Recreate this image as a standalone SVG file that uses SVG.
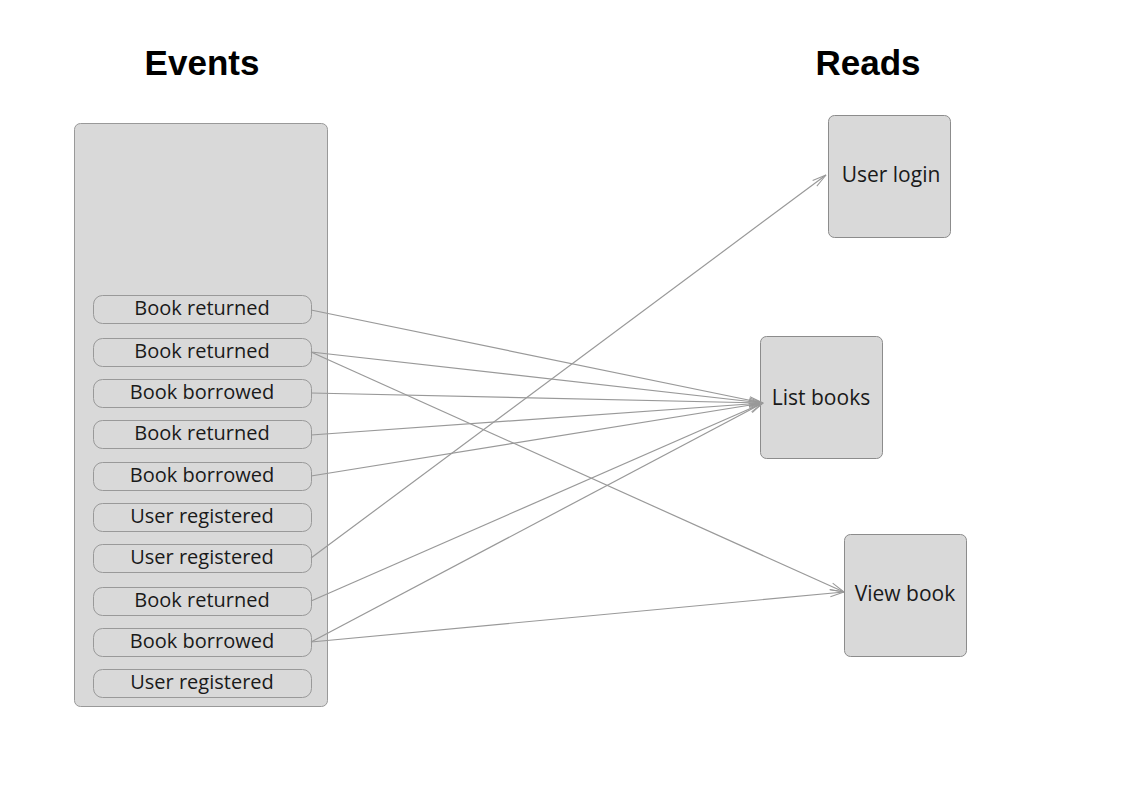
<svg xmlns="http://www.w3.org/2000/svg" width="1125" height="798" viewBox="0 0 1125 798">
<style>
.title{font-family:"Liberation Sans",Arial,sans-serif;font-weight:bold;font-size:35px;fill:#000;text-anchor:middle}
.lbl{font-family:"Open Sans","DejaVu Sans",sans-serif;font-size:20px;fill:#1a1a1a;text-anchor:middle}
.rlbl{font-family:"Open Sans","DejaVu Sans",sans-serif;font-size:21px;fill:#1a1a1a;text-anchor:middle}
.cont{fill:#d9d9d9;stroke:#999;stroke-width:1}
.ev{fill:#d9d9d9;stroke:#999;stroke-width:1}
.rd{fill:#d9d9d9;stroke:#8c8c8c;stroke-width:1}
.conn line{stroke:#999;stroke-width:1.2;fill:none;marker-end:url(#arr)}
</style>
<defs>
<marker id="arr" markerWidth="16" markerHeight="10" refX="15" refY="5" orient="auto" markerUnits="userSpaceOnUse">
<path d="M1,1.5 L15,5 L1,8.5" fill="none" stroke="#999" stroke-width="1"/>
</marker>
</defs>
<rect width="1125" height="798" fill="#fff"/>
<text class="title" x="202" y="75">Events</text>
<text class="title" x="868" y="75">Reads</text>
<g id="events">
<rect class="cont" x="74.5" y="123.5" width="253" height="583" rx="6"/>
</g>
<g id="e1"><rect class="ev" x="93.5" y="295.5" width="218" height="28" rx="9"/><text class="lbl" x="202" y="315">Book returned</text></g>
<g id="e2"><rect class="ev" x="93.5" y="338.5" width="218" height="28" rx="9"/><text class="lbl" x="202" y="358">Book returned</text></g>
<g id="e3"><rect class="ev" x="93.5" y="379.5" width="218" height="28" rx="9"/><text class="lbl" x="202" y="399">Book borrowed</text></g>
<g id="e4"><rect class="ev" x="93.5" y="420.5" width="218" height="28" rx="9"/><text class="lbl" x="202" y="440">Book returned</text></g>
<g id="e5"><rect class="ev" x="93.5" y="462.5" width="218" height="28" rx="9"/><text class="lbl" x="202" y="482">Book borrowed</text></g>
<g id="e6"><rect class="ev" x="93.5" y="503.5" width="218" height="28" rx="9"/><text class="lbl" x="202" y="523">User registered</text></g>
<g id="e7"><rect class="ev" x="93.5" y="544.5" width="218" height="28" rx="9"/><text class="lbl" x="202" y="564">User registered</text></g>
<g id="e8"><rect class="ev" x="93.5" y="587.5" width="218" height="28" rx="9"/><text class="lbl" x="202" y="607">Book returned</text></g>
<g id="e9"><rect class="ev" x="93.5" y="628.5" width="218" height="28" rx="9"/><text class="lbl" x="202" y="648">Book borrowed</text></g>
<g id="e10"><rect class="ev" x="93.5" y="669.5" width="218" height="28" rx="9"/><text class="lbl" x="202" y="689">User registered</text></g>
<g id="userlogin"><rect class="rd" x="828.5" y="115.5" width="122" height="122" rx="6"/><text class="rlbl" x="891" y="182">User login</text></g>
<g id="listbooks"><rect class="rd" x="760.5" y="336.5" width="122" height="122" rx="6"/><text class="rlbl" x="821" y="405">List books</text></g>
<g id="viewbook"><rect class="rd" x="844.5" y="534.5" width="122" height="122" rx="6"/><text class="rlbl" x="905" y="601">View book</text></g>
<g class="conn" id="connectors">
<line x1="311" y1="310" x2="763" y2="403"/>
<line x1="311" y1="352" x2="763" y2="403"/>
<line x1="311" y1="352" x2="844" y2="592"/>
<line x1="311" y1="393" x2="763" y2="403"/>
<line x1="311" y1="435" x2="763" y2="403"/>
<line x1="311" y1="476" x2="763" y2="403"/>
<line x1="311" y1="558" x2="826" y2="175"/>
<line x1="311" y1="601" x2="763" y2="403"/>
<line x1="311" y1="642" x2="763" y2="403"/>
<line x1="311" y1="642" x2="844" y2="592"/>
</g>
</svg>
